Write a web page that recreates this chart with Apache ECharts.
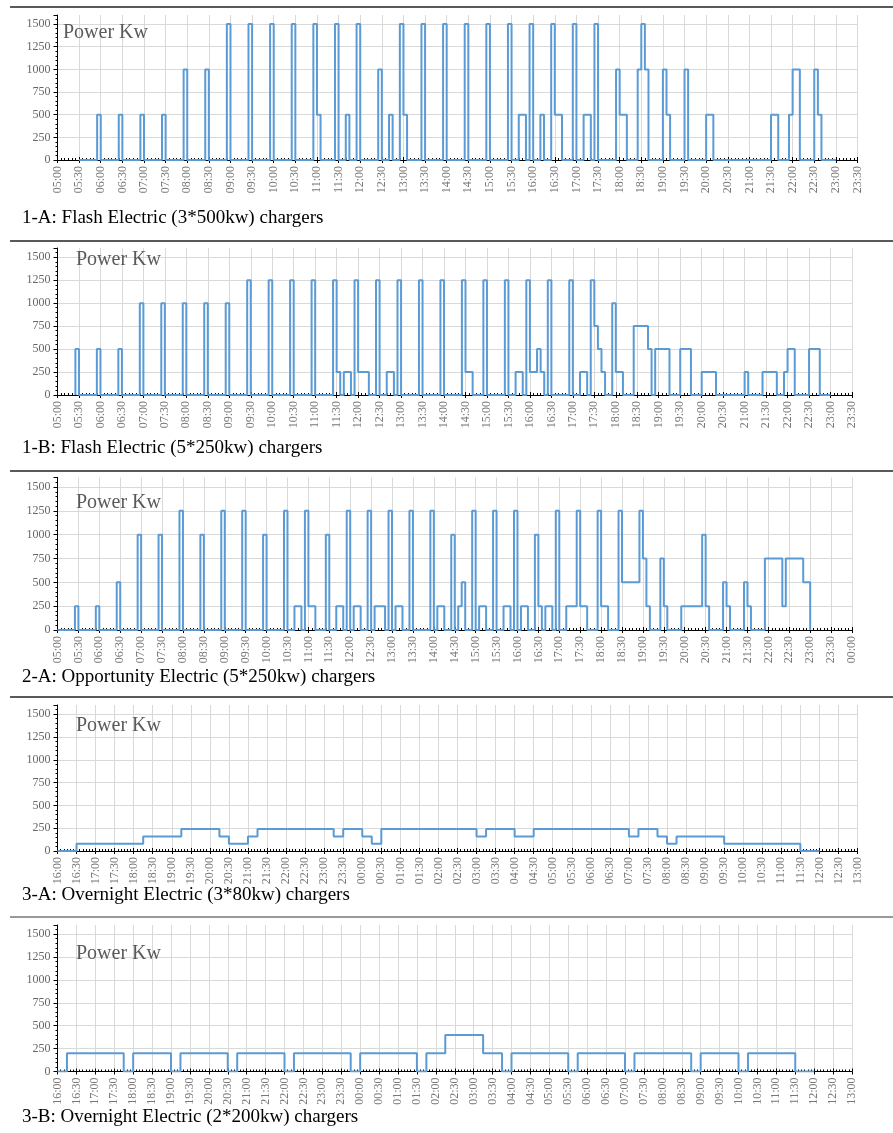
<!DOCTYPE html>
<html>
<head>
<meta charset="utf-8">
<script src="https://cdn.jsdelivr.net/npm/echarts@6/dist/echarts.min.js"></script>
<style>
html,body{margin:0;padding:0;background:#fff;}
#chart{width:893px;height:1133px;}
</style>
</head>
<body>
<div id="chart"></div>
<script>
// ---------------- DATA ----------------
const captions = [
  "1-A: Flash Electric (3*500kw) chargers",
  "1-B: Flash Electric (5*250kw) chargers",
  "2-A: Opportunity Electric (5*250kw) chargers",
  "3-A: Overnight Electric (3*80kw) chargers",
  "3-B: Overnight Electric (2*200kw) chargers"
];
const yTitle = "Power Kw";
const yTicks = [0, 250, 500, 750, 1000, 1250, 1500];

// Panel 1-A: time of change -> power level (kW)
const p1Times = ["05:30","05:55","06:00","06:25","06:30","06:55","07:00","07:25","07:30","07:55","08:00","08:25","08:30","08:55","09:00","09:25","09:30","09:55","10:00","10:25","10:30","10:55","11:00","11:05","11:25","11:30","11:40","11:45","11:55","12:00","12:25","12:30","12:40","12:45","12:55","13:00","13:05","13:25","13:30","13:55","14:00","14:25","14:30","14:55","15:00","15:25","15:30","15:40","15:50","15:55","16:00","16:10","16:15","16:25","16:30","16:40","16:55","17:00","17:10","17:20","17:25","17:30","17:55","18:00","18:10","18:25","18:30","18:35","18:40","19:00","19:05","19:10","19:30","19:35","20:00","20:10","21:30","21:40","21:55","22:00","22:10","22:30","22:35","22:40","23:00"];
const p1Power = [0,500,0,500,0,500,0,500,0,1000,0,1000,0,1500,0,1500,0,1500,0,1500,0,1500,500,0,1500,0,500,0,1500,0,1000,0,500,0,1500,500,0,1500,0,1500,0,1500,0,1500,0,1500,0,500,0,1500,0,500,0,1500,500,0,1500,0,500,0,1500,0,1000,500,0,1000,1500,1000,0,1000,500,0,1000,0,500,0,500,0,500,1000,0,1000,500,0,0];

// Panel 1-B
const p2Times = ["05:25","05:25","05:30","05:55","06:00","06:25","06:30","06:55","07:00","07:25","07:30","07:55","08:00","08:25","08:30","08:55","09:00","09:25","09:30","09:55","10:00","10:25","10:30","10:55","11:00","11:25","11:30","11:35","11:40","11:50","11:55","12:00","12:15","12:25","12:30","12:40","12:50","12:55","13:00","13:25","13:30","13:55","14:00","14:25","14:30","14:40","14:55","15:00","15:25","15:30","15:40","15:50","15:55","16:00","16:10","16:15","16:20","16:25","16:30","16:55","17:00","17:10","17:20","17:25","17:30","17:35","17:40","17:45","17:55","18:00","18:10","18:25","18:45","18:50","18:55","19:15","19:30","19:45","20:00","20:20","21:00","21:05","21:25","21:45","21:55","22:00","22:10","22:30","22:45","23:00"];
const p2Power = [0,500,0,500,0,500,0,1000,0,1000,0,1000,0,1000,0,1000,0,1250,0,1250,0,1250,0,1250,0,1250,250,0,250,0,1250,250,0,1250,0,250,0,1250,0,1250,0,1250,0,1250,250,0,1250,0,1250,0,250,0,1250,250,500,250,0,1250,0,1250,0,250,0,1250,750,500,250,0,1000,250,0,750,500,0,500,0,500,0,250,0,250,0,250,0,250,500,0,500,0,0];

// Panel 2-A
const p3Times = ["05:00","05:25","05:30","05:55","06:00","06:25","06:30","06:55","07:00","07:25","07:30","07:55","08:00","08:25","08:30","08:55","09:00","09:25","09:30","09:55","10:00","10:25","10:30","10:40","10:50","10:55","11:00","11:10","11:25","11:30","11:40","11:50","11:55","12:00","12:05","12:15","12:25","12:30","12:35","12:50","12:55","13:00","13:05","13:15","13:25","13:30","13:55","14:00","14:05","14:15","14:25","14:30","14:35","14:40","14:45","14:55","15:00","15:05","15:15","15:25","15:30","15:40","15:50","15:55","16:00","16:05","16:15","16:25","16:30","16:35","16:40","16:50","16:55","17:00","17:10","17:25","17:30","17:40","17:55","18:00","18:10","18:25","18:30","18:55","19:00","19:05","19:10","19:25","19:30","19:35","19:55","20:25","20:30","20:35","20:55","21:00","21:05","21:25","21:30","21:35","21:55","22:20","22:25","22:50","23:00"];
const p3Power = [0,250,0,250,0,500,0,1000,0,1000,0,1250,0,1000,0,1250,0,1250,0,1000,0,1250,0,250,0,1250,250,0,1000,0,250,0,1250,0,250,0,1250,0,250,0,1250,0,250,0,1250,0,1250,0,250,0,1000,0,250,500,0,1250,0,250,0,1250,0,250,0,1250,0,250,0,1000,250,0,250,0,1250,0,250,1250,250,0,1250,250,0,1250,500,1250,750,250,0,750,250,0,250,1000,250,0,500,250,0,500,250,0,750,250,750,500,0];

// Panel 3-A (overnight, 16:00 -> 13:00 next day)
const p4Times = ["16:00","16:30","18:15","19:15","20:15","20:30","21:00","21:15","23:15","23:30","00:00","00:15","00:30","03:00","03:15","04:00","04:30","07:00","07:15","07:45","08:00","08:15","09:30","11:30","12:00"];
const p4Power = [0,80,160,240,160,80,160,240,160,240,160,80,240,160,240,160,240,160,240,160,80,160,80,0,0];

// Panel 3-B (overnight, 16:00 -> 13:00 next day)
const p5Times = ["16:00","16:15","17:45","18:00","19:00","19:15","20:30","20:45","22:00","22:15","23:45","00:00","01:30","01:45","02:15","03:15","03:45","04:00","05:30","05:45","07:00","07:15","08:45","09:00","10:00","10:15","11:30","12:00"];
const p5Power = [0,200,0,200,0,200,0,200,0,200,0,200,0,200,400,200,0,200,0,200,0,200,0,200,0,200,0,0];

// axis ranges (clock times)
const xRanges = [["05:00","23:30"],["05:00","23:30"],["05:00","00:00"],["16:00","13:00"],["16:00","13:00"]];

// ---------------- LAYOUT ----------------
const layout = [
  {top: 15,    height: 145,   left: 57.5, right: 35.5, cap: 218,  pk: [63, 33],  sep: 7},
  {top: 248,   height: 147,   left: 57.5, right: 41,   cap: 448,  pk: [76, 260], sep: 241},
  {top: 477.5, height: 152.5, left: 57.5, right: 41,   cap: 677,  pk: [76, 503], sep: 471},
  {top: 705,   height: 146,   left: 57.5, right: 35.5, cap: 895,  pk: [76, 726], sep: 697},
  {top: 925,   height: 146.5, left: 57.5, right: 41,   cap: 1117, pk: [76, 954], sep: 917}
];

function toMin(s, start) {
  const parts = s.split(':').map(Number);
  let v = parts[0] * 60 + parts[1];
  if (v < start) v += 1440;
  return v;
}
function fmt(v) {
  const m = ((v % 1440) + 1440) % 1440;
  const h = Math.floor(m / 60), mm = m % 60;
  return String(h).padStart(2, '0') + ':' + String(mm).padStart(2, '0');
}

const allTimes = [p1Times, p2Times, p3Times, p4Times, p5Times];
const allPower = [p1Power, p2Power, p3Power, p4Power, p5Power];

const FONT = "'Liberation Serif', 'DejaVu Serif', serif";
const grids = [], xAxes = [], yAxes = [], series = [], graphics = [];

layout.forEach((L, i) => {
  const start = toMin(xRanges[i][0], 0);
  let end = toMin(xRanges[i][1], start);
  if (end <= start) end += 1440;
  grids.push({left: L.left, right: L.right, top: L.top, height: L.height, containLabel: false});
  xAxes.push({
    type: 'value', gridIndex: i, position: 'bottom', min: start, max: end, interval: 30,
    axisLine: {show: true, onZero: false, lineStyle: {color: '#000', width: 1}},
    axisTick: {show: true, inside: true, length: 3, lineStyle: {color: '#000'}},
    minorTick: {show: true, splitNumber: 6, length: 2, lineStyle: {color: '#000'}},
    minorSplitLine: {show: false},
    splitLine: {show: true, lineStyle: {color: '#d9d9d9', width: 1}},
    axisLabel: {rotate: 90, color: '#777777', fontFamily: FONT, fontSize: 12, margin: 6,
      formatter: fmt, showMinLabel: true, showMaxLabel: true, hideOverlap: false}
  });
  // overlay axis for ticks that cross the axis line
  xAxes.push({
    type: 'value', gridIndex: i, position: 'bottom', min: start, max: end, interval: 30,
    axisLine: {show: false}, splitLine: {show: false}, axisLabel: {show: false},
    axisTick: {show: true, inside: false, length: 3, lineStyle: {color: '#000'}}
  });
  yAxes.push({
    type: 'value', gridIndex: i, min: 0, max: 1600, interval: 250,
    axisLine: {show: true, lineStyle: {color: '#000', width: 1}},
    axisTick: {show: true, length: 4, lineStyle: {color: '#000'}},
    minorTick: {show: true, splitNumber: 5, length: 2, lineStyle: {color: '#000'}},
    splitLine: {show: true, showMaxLine: false, lineStyle: {color: '#d9d9d9', width: 1}},
    axisLabel: {color: '#666666', fontFamily: FONT, fontSize: 12, margin: 7, showMaxLabel: false,
      formatter: v => (yTicks.indexOf(v) >= 0 ? String(v) : '')}
  });
  const data = allTimes[i].map((t, k) => [toMin(t, start), allPower[i][k]]);
  series.push({
    type: 'line', xAxisIndex: i * 2, yAxisIndex: i, step: 'end', showSymbol: false,
    lineStyle: {color: '#5b9bd5', width: 2}, itemStyle: {color: '#5b9bd5'},
    data: data, animation: false, silent: true, z: 3
  });
  graphics.push({
    type: 'line', shape: {x1: 10, y1: L.sep, x2: 893, y2: L.sep},
    style: {stroke: i === 4 ? '#777' : '#222', lineWidth: 1.5}, silent: true
  });
  graphics.push({
    type: 'text', x: 22, y: L.cap,
    style: {text: captions[i], font: '19px ' + FONT, fill: '#000', textVerticalAlign: 'middle', verticalAlign: 'middle'}
  });
  graphics.push({
    type: 'text', x: L.pk[0], y: L.pk[1], z: 10,
    style: {text: yTitle, font: '20px ' + FONT, fill: '#5a5a5a', textVerticalAlign: 'middle', verticalAlign: 'middle'}
  });
});

const chart = echarts.init(document.getElementById('chart'), null, {renderer: 'canvas'});
chart.setOption({
  animation: false,
  backgroundColor: '#ffffff',
  grid: grids, xAxis: xAxes, yAxis: yAxes, series: series, graphic: graphics
});
</script>
</body>
</html>
